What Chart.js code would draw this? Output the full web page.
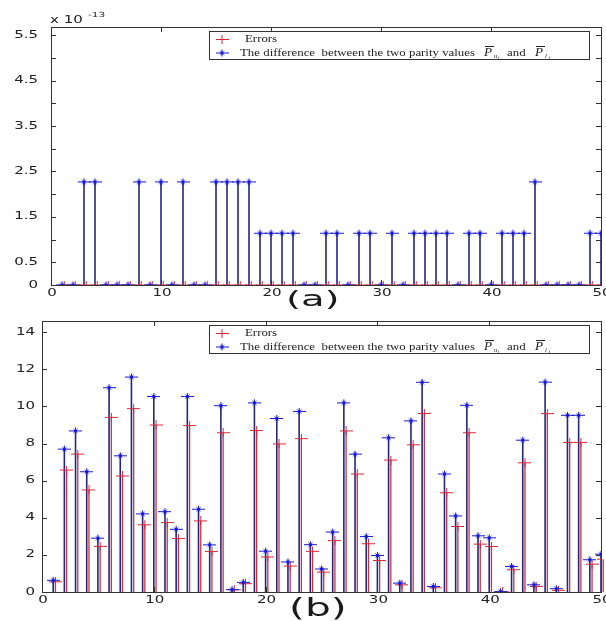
<!DOCTYPE html>
<html>
<head>
<meta charset="utf-8">
<script src="https://cdn.jsdelivr.net/npm/chart.js@4.4.0/dist/chart.umd.min.js"></script>
<style>
body{margin:0;background:#fff;width:606px;height:621px;overflow:hidden;position:relative}
canvas{position:absolute;left:0}
#chartA{top:0}
#chartB{top:310px}
.cap{position:absolute;font-family:"DejaVu Sans",sans-serif;color:#1a1a1a;transform-origin:0 0;white-space:nowrap}
</style>
</head>
<body>
<canvas id="chartA" width="606" height="310"></canvas>
<canvas id="chartB" width="606" height="311"></canvas>
<div class="cap" style="left:286px;top:286px;font-size:22px;transform:scaleX(1.75)">(a)</div>
<div class="cap" style="left:289px;top:594px;font-size:24px;transform:scaleX(1.7)">(b)</div>
<script>
// sample index (x axis)
const sampleNo = [1,2,3,4,5,6,7,8,9,10,11,12,13,14,15,16,17,18,19,20,21,22,23,24,25,
  26,27,28,29,30,31,32,33,34,35,36,37,38,39,40,41,42,43,44,45,46,47,48,49,50];

// (a)  values in units of 1e-13
const errA = [0,0,0,0,0,0,0,0,0,0,0,0,0,0,0,0,0,0,0,0,0,0,0,0,0,
  0,0,0,0,0,0,0,0,0,0,0,0,0,0,0,0,0,0,0,0,0,0,0,0,0];
const diffA = [0,0,2.27,2.27,0,0,0,2.27,0,2.27,0,2.27,0,0,2.27,2.27,2.27,2.27,1.14,1.14,1.14,1.14,0,0,1.14,
  1.14,0,1.14,1.14,0,1.14,0,1.14,1.14,1.14,1.14,0,1.14,1.14,0,1.14,1.14,1.14,2.27,0,0,0,0,1.14,1.14];

// (b)
const errB = [0.55,6.57,7.43,5.50,2.46,9.41,6.25,9.88,3.62,9.00,3.74,2.88,8.97,3.83,2.18,8.58,0.12,0.45,8.70,1.89,7.98,1.40,8.26,2.19,1.07,
  2.77,8.68,6.36,2.60,1.70,7.11,0.39,7.93,9.62,0.23,5.35,3.53,8.58,2.58,2.45,0.02,1.20,6.96,0.30,9.61,0.09,8.06,8.06,1.50,1.77];
const diffB = [0.63,7.70,8.68,6.48,2.90,11.01,7.34,11.58,4.21,10.53,4.33,3.38,10.53,4.46,2.54,10.04,0.13,0.52,10.19,2.20,9.35,1.62,9.73,2.55,1.24,
  3.23,10.19,7.43,2.99,1.97,8.31,0.48,9.22,11.30,0.30,6.36,4.10,10.06,3.03,2.92,0.02,1.38,8.18,0.39,11.31,0.18,9.52,9.52,1.74,2.04];

const yLabelsA = [0,0.5,1.5,2.5,3.5,4.5,5.5];
const legendErr = 'Errors';
const legendDiff = 'The difference  between the two parity values';

// ---- styles ----
const errShift = 0.2;
const redStem = '#c8343c', blueStem = '#25257d';
const redMark = '#d8283a', blueMark = '#1818d0';
const frameCol = '#333';

function plusMark(color) {
  const c = document.createElement('canvas');
  c.width = 13; c.height = 9;
  const g = c.getContext('2d');
  g.strokeStyle = color; g.lineWidth = 1;
  g.beginPath();
  g.moveTo(0, 4.5); g.lineTo(13, 4.5);
  g.moveTo(6.5, 0); g.lineTo(6.5, 9);
  g.stroke();
  return c;
}
function starMark(color) {
  const c = document.createElement('canvas');
  c.width = 13; c.height = 9;
  const g = c.getContext('2d');
  g.strokeStyle = color; g.lineWidth = 1;
  g.beginPath();
  g.moveTo(0, 4.5); g.lineTo(13, 4.5);
  g.moveTo(6.5, 1); g.lineTo(6.5, 8);
  g.moveTo(4.5, 2.5); g.lineTo(8.5, 6.5);
  g.moveTo(8.5, 2.5); g.lineTo(4.5, 6.5);
  g.stroke();
  return c;
}
const plusImg = plusMark(redMark), starImg = starMark(blueMark);

function stretchText(ctx, txt, x, y, align, font, sx) {
  ctx.save();
  ctx.font = font;
  const w = ctx.measureText(txt).width * sx;
  const left = align === 'right' ? x - w : align === 'center' ? x - w / 2 : x;
  ctx.translate(left, y);
  ctx.scale(sx, 1);
  ctx.textAlign = 'left';
  ctx.textBaseline = 'middle';
  ctx.fillStyle = '#222';
  ctx.fillText(txt, 0, 0);
  ctx.restore();
}

// stems from zero to each point
const stems = {
  id: 'stems',
  beforeDatasetsDraw(chart) {
    const ctx = chart.ctx, y0 = chart.scales.y.getPixelForValue(0);
    chart.data.datasets.forEach((ds, i) => {
      const meta = chart.getDatasetMeta(i);
      ctx.save();
      ctx.strokeStyle = ds.stemColor;
      ctx.lineWidth = ds.stemWidth;
      meta.data.forEach(p => {
        if (Math.abs(p.y - y0) < 0.5) return;
        ctx.beginPath();
        ctx.moveTo(p.x, y0);
        ctx.lineTo(p.x, p.y);
        ctx.stroke();
      });
      ctx.restore();
    });
  }
};

// box, inward ticks, tick labels, legend
const frame = {
  id: 'frame',
  afterDraw(chart, args, opts) {
    const ctx = chart.ctx, a = chart.chartArea;
    const xs = chart.scales.x, ys = chart.scales.y;
    ctx.save();
    ctx.strokeStyle = frameCol;
    ctx.lineWidth = 1;
    ctx.strokeRect(Math.round(a.left) + 0.5, Math.round(a.top) + 0.5,
      Math.round(a.right - a.left), Math.round(a.bottom - a.top));
    ctx.beginPath();
    xs.ticks.forEach(t => {
      const px = Math.round(xs.getPixelForValue(t.value)) + 0.5;
      ctx.moveTo(px, a.bottom); ctx.lineTo(px, a.bottom - 5);
      ctx.moveTo(px, a.top); ctx.lineTo(px, a.top + 5);
    });
    ys.ticks.forEach(t => {
      const py = Math.round(ys.getPixelForValue(t.value)) + 0.5;
      ctx.moveTo(a.left, py); ctx.lineTo(a.left + 5, py);
      ctx.moveTo(a.right, py); ctx.lineTo(a.right - 5, py);
    });
    ctx.stroke();
    ctx.restore();

    const tf = '10px "DejaVu Sans"';
    xs.ticks.forEach(t => {
      stretchText(ctx, String(t.value), xs.getPixelForValue(t.value) + 1, a.bottom + 8, 'center', tf, 1.5);
    });
    ys.ticks.forEach(t => {
      if (opts.yLabels && !opts.yLabels.includes(t.value)) return;
      stretchText(ctx, String(t.value), a.left - opts.yGap, ys.getPixelForValue(t.value), 'right', tf, 1.5);
    });
    if (opts.exponent) {
      stretchText(ctx, 'x 10', a.left - 1, a.top - 7, 'left', tf, 1.5);
      stretchText(ctx, opts.exponent, a.left + 37, a.top - 12, 'left', '7px "DejaVu Sans"', 1.5);
    }

    // legend
    const L = 209, R = 589, T = Math.round(a.top) + 4, H = 28;
    ctx.save();
    ctx.fillStyle = '#fff';
    ctx.fillRect(L, T, R - L, H);
    ctx.strokeStyle = frameCol;
    ctx.strokeRect(L + 0.5, T + 0.5, R - L, H);
    const r1 = T + 8.5, r2 = T + 22;
    ctx.drawImage(plusImg, 222 - 6.5, r1 - 4.5);
    ctx.drawImage(starImg, 222 - 6.5, r2 - 4.5);
    ctx.font = '11px "Liberation Serif"';
    const sx = 235 / ctx.measureText(legendDiff).width;
    ctx.restore();
    stretchText(ctx, legendErr, 245, r1, 'left', '11px "Liberation Serif"', sx);
    stretchText(ctx, legendDiff, 240, r2, 'left', '11px "Liberation Serif"', sx);
    // math: P-bar with subscripts
    const mathP = (x, sub) => {
      stretchText(ctx, 'P', x, r2, 'left', 'italic 12px "Liberation Serif"', 1.1);
      ctx.save();
      ctx.strokeStyle = '#222';
      ctx.beginPath();
      ctx.moveTo(x + 1, r2 - 6.5); ctx.lineTo(x + 10, r2 - 6.5);
      ctx.stroke();
      ctx.restore();
      stretchText(ctx, sub, x + 10, r2 + 3, 'left', 'italic 6px "Liberation Serif"', 1.1);
      stretchText(ctx, 'i', x + 13.5, r2 + 5, 'left', 'italic 5px "Liberation Serif"', 1.1);
    };
    mathP(484, 'u');
    stretchText(ctx, 'and', 507, r2, 'left', '11px "Liberation Serif"', sx);
    mathP(535, 'l');
  }
};

function stemChart(id, err, diff, ymax, ystep, layout, frameOpts) {
  return new Chart(document.getElementById(id), {
    type: 'scatter',
    data: {
      datasets: [
        {
          label: legendDiff,
          data: sampleNo.map((n, i) => ({x: n, y: diff[i]})),
          pointStyle: starImg,
          stemColor: blueStem, stemWidth: 1.6
        },
        {
          label: legendErr,
          data: sampleNo.map((n, i) => ({x: n + errShift, y: err[i]})),
          pointStyle: plusImg,
          stemColor: redStem, stemWidth: 1.3
        }
      ]
    },
    options: {
      responsive: false,
      animation: false,
      events: [],
      layout: {padding: layout.padding},
      plugins: {legend: {display: false}, tooltip: {enabled: false}, frame: frameOpts},
      scales: {
        x: {
          type: 'linear', min: 0, max: 50,
          ticks: {stepSize: 10, display: false},
          grid: {display: false, drawTicks: false},
          border: {display: false},
          afterFit(s) { s.height = layout.xh; s.paddingLeft = 0; s.paddingRight = 0; }
        },
        y: {
          min: 0, max: ymax,
          ticks: {stepSize: ystep, includeBounds: false, display: false},
          grid: {display: false, drawTicks: false},
          border: {display: false},
          afterFit(s) { s.width = layout.yw; s.paddingTop = 0; s.paddingBottom = 0; }
        }
      }
    },
    plugins: [stems, frame]
  });
}

stemChart('chartA', errA, diffA, 5.68, 0.5,
  {padding: {top: 27, right: 5, left: 0, bottom: 0}, xh: 25, yw: 51},
  {yLabels: yLabelsA, yGap: 13, exponent: '-13'});
stemChart('chartB', errB, diffB, 14.6, 2,
  {padding: {top: 11, right: 1, left: 0, bottom: 0}, xh: 29, yw: 42},
  {yGap: 7});
</script>
</body>
</html>
